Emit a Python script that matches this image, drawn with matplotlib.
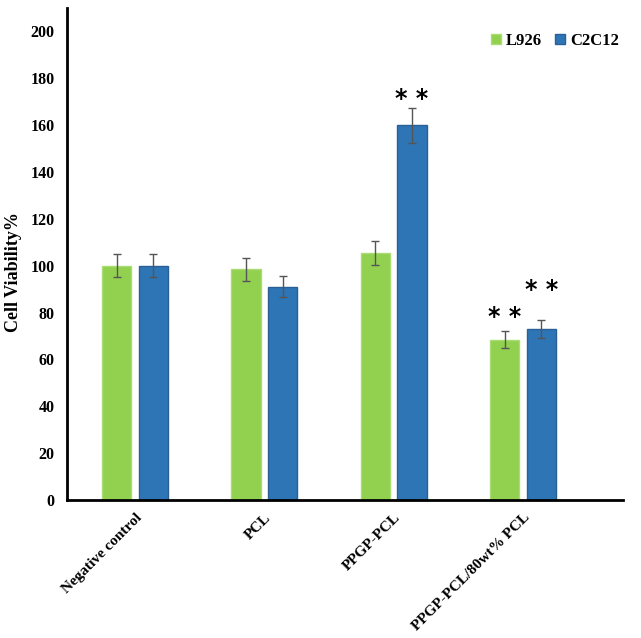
import matplotlib
matplotlib.use("Agg")
import matplotlib.pyplot as plt
import numpy as np

categories = ["Negative control", "PCL", "PPGP-PCL", "PPGP-PCL/80wt% PCL"]
l926 = [100, 98.5, 105.5, 68.5]
l926_err = [5.0, 5.0, 5.0, 3.5]
c2c12 = [100, 91, 160, 73]
c2c12_err = [5.0, 4.5, 7.5, 4.0]
yticks = [0, 20, 40, 60, 80, 100, 120, 140, 160, 180, 200]
# significance marks: (series, category index, label, gap above error bar)
stars = [("c2c12", 2, "* *", 3.5), ("l926", 3, "* *", 6.0), ("c2c12", 3, "* *", 12.5)]

plt.rcParams['font.family'] = ['Liberation Serif', 'DejaVu Serif']
fig = plt.figure(figsize=(6.41, 6.38), dpi=100)
ax = fig.add_axes([0.1045, 0.2163, 0.8675, 0.7712])

x = np.arange(len(categories))
w = 0.225
off = 0.142
green = "#92D050"
blue = "#2E75B6"
ax.bar(x - off, l926, w, color=green, edgecolor="#A9DC72", linewidth=1, label="L926", zorder=2)
ax.bar(x + off, c2c12, w, color=blue, edgecolor="#2A5F97", linewidth=1, label="C2C12", zorder=2)
ax.errorbar(x - off, l926, yerr=l926_err, fmt="none", ecolor="#555555", elinewidth=1, capsize=3, capthick=1, zorder=3)
ax.errorbar(x + off, c2c12, yerr=c2c12_err, fmt="none", ecolor="#555555", elinewidth=1, capsize=3, capthick=1, zorder=3)

for series, i, lab, gap in stars:
    if series == "l926":
        xs, ys = i - off, l926[i] + l926_err[i] + gap
    else:
        xs, ys = i + off, c2c12[i] + c2c12_err[i] + gap
    ax.text(xs, ys, lab, ha="center", va="center", fontsize=17, fontweight="bold",
            family=["DejaVu Sans"])

ax.set_xlim(-0.527, 3.775)
ax.set_ylim(0, 210)
ax.set_yticks(yticks)
ax.set_yticklabels([str(t) for t in yticks], fontsize=11.5, fontweight="bold")
ax.set_xticks(x)
ax.set_xticklabels(categories, rotation=45, ha="right", rotation_mode="anchor",
                   fontsize=11, fontweight="bold")
ax.tick_params(axis="y", length=0, pad=9)
ax.tick_params(axis="x", length=0, pad=8)
for s in ["top", "right"]:
    ax.spines[s].set_visible(False)
for s in ["left", "bottom"]:
    ax.spines[s].set_linewidth(2)
    ax.spines[s].set_color("black")
ax.set_ylabel("Cell Viability%", fontsize=13, fontweight="bold")
ax.yaxis.set_label_coords(-0.081, 0.463)

leg = ax.legend(loc="upper right", bbox_to_anchor=(1.02, 0.98), ncol=2, frameon=False,
                handlelength=0.6, handleheight=0.6, handletextpad=0.3, columnspacing=0.8,
                prop={"weight": "bold", "size": 12})

fig.savefig("out.png", dpi=100)
